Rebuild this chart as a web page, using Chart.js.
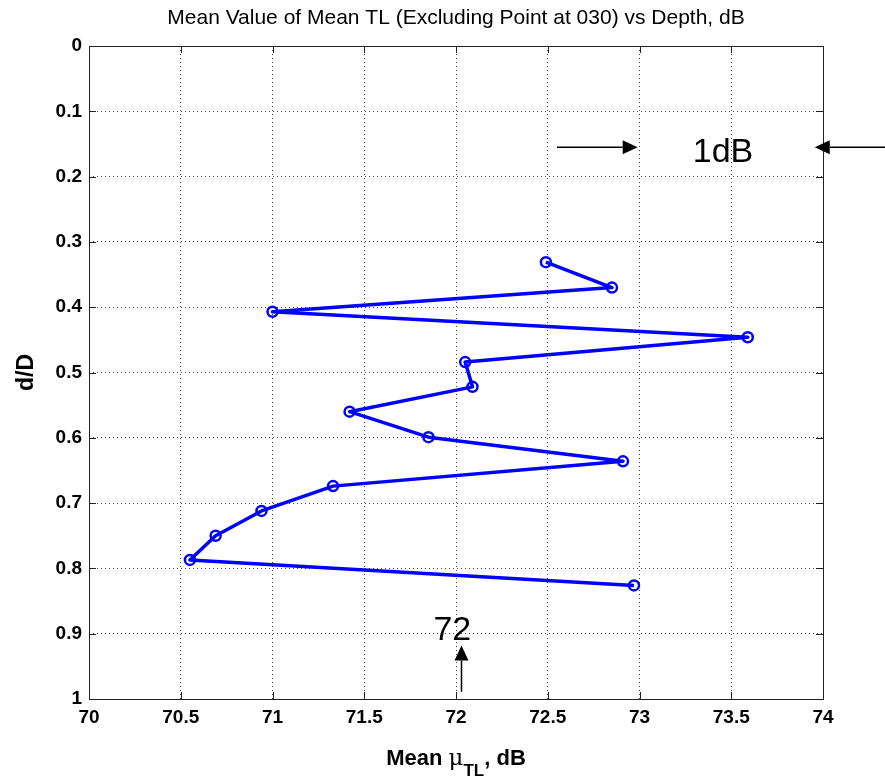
<!DOCTYPE html>
<html>
<head>
<meta charset="utf-8">
<script src="https://cdn.jsdelivr.net/npm/chart.js@4.4.1/dist/chart.umd.min.js"></script>
<style>
  html, body { margin: 0; padding: 0; background: #fff; }
  #wrap { width: 885px; height: 779px; }
</style>
</head>
<body>
<div id="wrap"><canvas id="chart" width="885" height="779"></canvas></div>
<script>
// valores
const meanTL = [72.49, 72.85, 71.00, 73.59, 72.05, 72.09, 71.42, 71.85, 72.91, 71.33, 70.94, 70.69, 70.55, 72.97];
const depth  = [0.331, 0.370, 0.407, 0.446, 0.484, 0.522, 0.560, 0.599, 0.636, 0.674, 0.712, 0.750, 0.787, 0.826];

const xTicks = [70, 70.5, 71, 71.5, 72, 72.5, 73, 73.5, 74];
const yTicks = [0, 0.1, 0.2, 0.3, 0.4, 0.5, 0.6, 0.7, 0.8, 0.9, 1];

const chartTitle = "Mean Value of Mean TL (Excluding Point at 030) vs Depth, dB";

// anotaciones en unidades de datos
const arrowNotes = [
  { from: [72.55, 0.155], to: [72.99, 0.155] },
  { from: [74.34, 0.155], to: [73.955, 0.155] },
  { from: [72.03, 0.989], to: [72.03, 0.918] }
];
const textNotes = [
  { text: "1dB", at: [73.455, 0.178] },
  { text: "72", at: [71.98, 0.91] }
];

const points = meanTL.map((v, i) => ({ x: v, y: depth[i] }));
const FONT = "'Liberation Sans', Arial, sans-serif";

// dibuja titulo, caja, ticks hacia adentro, flechas y titulo del eje x
const matlabAxes = {
  id: "matlabAxes",
  afterDraw(chart) {
    const { ctx, chartArea: a, scales: { x, y } } = chart;
    const cx = (a.left + a.right) / 2;
    ctx.save();

    ctx.fillStyle = "#000";
    ctx.font = "21px " + FONT;
    ctx.textAlign = "center";
    ctx.textBaseline = "middle";
    ctx.fillText(chartTitle, cx, 18);

    ctx.strokeStyle = "#222";
    ctx.lineWidth = 1;
    ctx.strokeRect(a.left + 0.5, a.top + 0.5, a.right - a.left, a.bottom - a.top);
    ctx.beginPath();
    xTicks.forEach(t => {
      const px = Math.round(x.getPixelForValue(t)) + 0.5;
      ctx.moveTo(px, a.bottom); ctx.lineTo(px, a.bottom - 7);
      ctx.moveTo(px, a.top); ctx.lineTo(px, a.top + 7);
    });
    yTicks.forEach(t => {
      const py = Math.round(y.getPixelForValue(t)) + 0.5;
      ctx.moveTo(a.left, py); ctx.lineTo(a.left + 7, py);
      ctx.moveTo(a.right, py); ctx.lineTo(a.right - 7, py);
    });
    ctx.stroke();

    // flechas
    ctx.strokeStyle = "#000";
    ctx.lineWidth = 1.5;
    arrowNotes.forEach(n => {
      const x0 = x.getPixelForValue(n.from[0]), y0 = y.getPixelForValue(n.from[1]);
      const x1 = x.getPixelForValue(n.to[0]), y1 = y.getPixelForValue(n.to[1]);
      const ang = Math.atan2(y1 - y0, x1 - x0);
      const hl = 15, hw = 7;
      const bx = x1 - hl * Math.cos(ang), by = y1 - hl * Math.sin(ang);
      ctx.beginPath();
      ctx.moveTo(x0, y0); ctx.lineTo(bx, by);
      ctx.stroke();
      ctx.beginPath();
      ctx.moveTo(x1, y1);
      ctx.lineTo(bx + hw * Math.sin(ang), by - hw * Math.cos(ang));
      ctx.lineTo(bx - hw * Math.sin(ang), by + hw * Math.cos(ang));
      ctx.closePath();
      ctx.fill();
    });

    ctx.font = "34px " + FONT;
    ctx.textBaseline = "alphabetic";
    textNotes.forEach(n => {
      ctx.fillText(n.text, x.getPixelForValue(n.at[0]), y.getPixelForValue(n.at[1]));
    });

    // titulo del eje x con subindice
    const base = 765;
    const big = "bold 22px " + FONT;
    const mu = "23px 'DejaVu Serif', 'Liberation Serif', serif";
    const small = "bold 17px " + FONT;
    ctx.textAlign = "left";
    ctx.font = big;
    const w1 = ctx.measureText("Mean ").width;
    const w4 = ctx.measureText(", dB").width;
    ctx.font = mu;
    const w2 = ctx.measureText("\u03bc").width;
    ctx.font = small;
    const w3 = ctx.measureText("TL").width;
    let sx = cx - (w1 + w2 + w3 + w4) / 2;
    ctx.font = big;
    ctx.fillText("Mean ", sx, base);
    ctx.font = mu;
    ctx.fillText("\u03bc", sx + w1, base);
    ctx.font = small;
    ctx.fillText("TL", sx + w1 + w2, base + 11);
    ctx.font = big;
    ctx.fillText(", dB", sx + w1 + w2 + w3, base);
    ctx.restore();
  }
};

new Chart(document.getElementById("chart"), {
  type: "scatter",
  data: {
    datasets: [{
      data: points,
      showLine: true,
      borderColor: "#0000ff",
      borderWidth: 3.5,
      borderJoinStyle: "round",
      pointRadius: 5,
      pointBorderWidth: 2.5,
      pointBorderColor: "#0000ff",
      pointBackgroundColor: "rgba(0,0,0,0)",
      pointHoverRadius: 5
    }]
  },
  options: {
    responsive: false,
    animation: false,
    layout: { padding: { top: 46, right: 62, bottom: 0, left: 0 } },
    plugins: {
      legend: { display: false },
      tooltip: { enabled: false },
      title: { display: false }
    },
    scales: {
      x: {
        type: "linear",
        min: 70,
        max: 74,
        afterFit: s => { s.height = 80; },
        afterBuildTicks: s => { s.ticks = xTicks.map(v => ({ value: v })); },
        border: { display: false, dash: [1, 3] },
        grid: { color: "#444", drawTicks: false },
        ticks: {
          color: "#000",
          padding: 7,
          maxRotation: 0,
          font: { family: FONT, size: 19, weight: "bold" },
          callback: v => String(Number(v.toFixed(1)))
        }
      },
      y: {
        type: "linear",
        reverse: true,
        min: 0,
        max: 1,
        afterFit: s => { s.width = 89; },
        afterBuildTicks: s => { s.ticks = yTicks.map(v => ({ value: v })); },
        border: { display: false, dash: [1, 3] },
        grid: { color: "#444", drawTicks: false },
        title: {
          display: true,
          text: "d/D",
          color: "#000",
          font: { family: FONT, size: 23, weight: "bold" },
          padding: { top: 13, bottom: 0 }
        },
        ticks: {
          color: "#000",
          padding: 7,
          font: { family: FONT, size: 19, weight: "bold" },
          callback: v => String(Number(v.toFixed(1)))
        }
      }
    }
  },
  plugins: [matlabAxes]
});
</script>
</body>
</html>
